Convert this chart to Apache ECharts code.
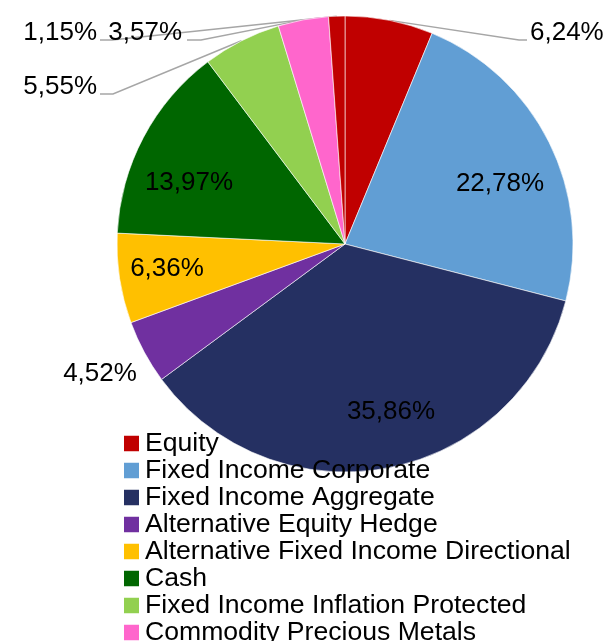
<!DOCTYPE html>
<html>
<head>
<meta charset="utf-8">
<script src="https://cdn.jsdelivr.net/npm/echarts@6/dist/echarts.min.js"></script>
<style>
  html, body { margin: 0; padding: 0; background: #fff; }
  #chart { width: 606px; height: 641px; }
</style>
</head>
<body>
<div id="chart"></div>
<script>
    // allocation, clockwise from 12 o'clock
    var names = ['Equity', 'Fixed Income Corporate', 'Fixed Income Aggregate', 'Alternative Equity Hedge',
                 'Alternative Fixed Income Directional', 'Cash', 'Fixed Income Inflation Protected',
                 'Commodity Precious Metals', 'Other'];
    var values = [6.24, 22.78, 35.86, 4.52, 6.36, 13.97, 5.55, 3.57, 1.15];
    var colors = ['#c00000', '#619ed4', '#253062', '#7030a0', '#ffc000', '#006600', '#92d050', '#ff66cc', '#c00000'];
    // which slices get their label inside the slice
    var insideLabel = [false, true, true, false, true, true, false, false, false];

    var cx = 345, cy = 244, R = 228;
    var font = '"Liberation Sans", Arial, sans-serif';

    var total = 0;
    for (var i = 0; i < values.length; i++) total += values[i];

    // point on the rim at the middle of slice i
    function rimPoint(i) {
        var before = 0;
        for (var j = 0; j < i; j++) before += values[j];
        var a = (before + values[i] / 2) / total * 2 * Math.PI;
        return [cx + R * Math.sin(a), cy - R * Math.cos(a)];
    }

    // label placement (Excel moved the small ones to the top)
    var labelPlace = {
        0: { x: 530, y: 33, align: 'left', line: [[519, 40], [527, 40]] },
        1: { x: 500, y: 184, align: 'center' },
        2: { x: 391, y: 412, align: 'center' },
        3: { x: 100, y: 374, align: 'center' },
        4: { x: 167, y: 269, align: 'center' },
        5: { x: 189, y: 183, align: 'center' },
        6: { x: 97, y: 87, align: 'right', line: [[113, 94], [100, 94]] },
        7: { x: 182, y: 33, align: 'right', line: [[201, 40], [187, 40]] },
        8: { x: 97, y: 33, align: 'right', line: [[112, 40], [100, 40]] }
    };

    var pieData = [];
    for (var i = 0; i < names.length; i++) {
        var hasLine = !insideLabel[i] && !!labelPlace[i].line;
        pieData.push({
            name: names[i],
            value: values[i],
            itemStyle: { color: colors[i] },
            label: { position: insideLabel[i] ? 'inside' : 'outside' },
            labelLine: { show: hasLine }
        });
    }

    var myChart = echarts.init(document.getElementById('chart'), null, { renderer: 'canvas' });
    var option = {
        animation: false,
        backgroundColor: '#fff',
        legend: {
            orient: 'vertical',
            left: 122,
            top: 430,
            height: 300,
            padding: 0,
            itemWidth: 17,
            itemHeight: 17.5,
            itemGap: 0,
            icon: 'rect',
            selectedMode: false,
            data: names,
            textStyle: { fontFamily: font, fontSize: 26.6, lineHeight: 27, color: '#000' }
        },
        series: [
            {
                type: 'pie',
                center: [cx, cy],
                radius: [0, R],
                startAngle: 90,
                clockwise: true,
                avoidLabelOverlap: false,
                itemStyle: { borderColor: '#ffffff', borderWidth: 0.6 },
                label: {
                    show: true,
                    fontFamily: font,
                    fontSize: 26,
                    color: '#000',
                    formatter: function (p) {
                        return p.value.toFixed(2).replace('.', ',') + '%';
                    }
                },
                labelLine: {
                    lineStyle: { color: '#a6a6a6', width: 1.5 }
                },
                labelLayout: function (params) {
                    var p = labelPlace[params.dataIndex];
                    var out = { x: p.x, y: p.y, align: p.align, verticalAlign: 'middle' };
                    if (p.line) {
                        out.labelLinePoints = [rimPoint(params.dataIndex), p.line[0], p.line[1]];
                    }
                    return out;
                },
                data: pieData
            }
        ]
    };
    myChart.setOption(option);
    window.onresize = myChart.resize;
</script>
</body>
</html>
